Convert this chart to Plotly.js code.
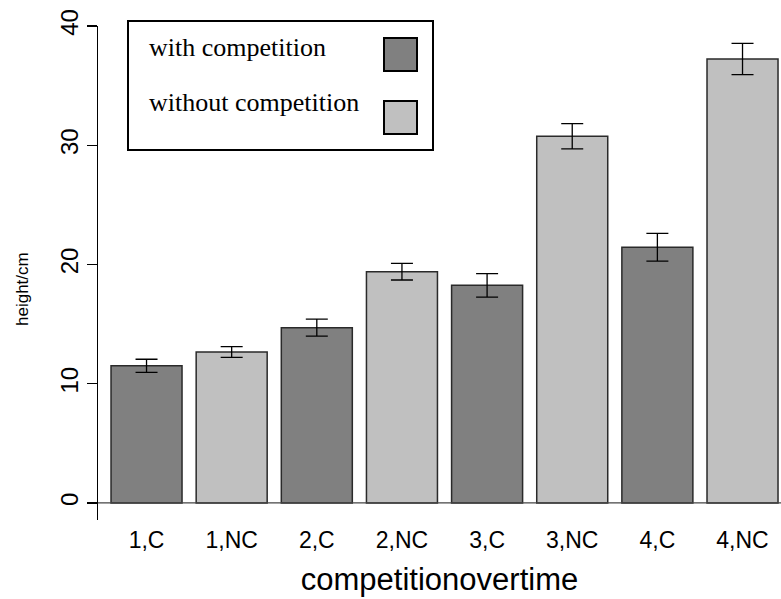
<!DOCTYPE html>
<html>
<head>
<meta charset="utf-8">
<script src="https://cdn.plot.ly/plotly-3.0.1.min.js"></script>
<style>html,body{margin:0;padding:0;background:#fff;}#chart{width:781px;height:599px;}</style>
</head>
<body>
<div id="chart"></div>
<script>
// ---- data ----
const categories = ["1,C", "1,NC", "2,C", "2,NC", "3,C", "3,NC", "4,C", "4,NC"];
const heights = [11.5, 12.66, 14.7, 19.4, 18.25, 30.75, 21.44, 37.23];
const errors = [0.55, 0.45, 0.71, 0.70, 0.99, 1.06, 1.16, 1.31];
const groups = ["with competition", "without competition", "with competition", "without competition",
                "with competition", "without competition", "with competition", "without competition"];
const legendLabels = ["with competition", "without competition"];
const yTicks = [0, 10, 20, 30, 40];
const xTitle = "competitionovertime";
const yTitle = "height/cm";

// ---- styles ----
const groupColors = {"with competition": "#808080", "without competition": "#c0c0c0"};
const W = 781, H = 599;
const plotL = 98, plotR = 781, plotT = 26, plotB = 520;
const px2x = p => (p - plotL) / (plotR - plotL);
const px2y = p => (plotB - p) / (plotB - plotT);
const sans = "Liberation Sans, Arial, sans-serif";

const trace = {
  type: "bar",
  x: categories,
  y: heights,
  marker: {
    color: groups.map(g => groupColors[g]),
    line: {color: "#2a2a2a", width: 1.5}
  },
  error_y: {type: "data", array: errors, visible: true, color: "#000", thickness: 1.3, width: 11},
  hoverinfo: "x+y",
  showlegend: false
};

const shapes = [
  // baseline at zero
  {type: "line", xref: "paper", yref: "y", x0: 0, x1: 1, y0: 0, y1: 0,
   line: {color: "#444", width: 1.3}},
  // legend box
  {type: "rect", xref: "paper", yref: "paper", x0: px2x(128), x1: px2x(433), y0: px2y(21), y1: px2y(150),
   line: {color: "#000", width: 2}, fillcolor: "rgba(255,255,255,0)"}
];
const annotations = [
  {text: yTitle, xref: "paper", yref: "paper", x: px2x(22), y: px2y(289), textangle: -90,
   showarrow: false, xanchor: "center", yanchor: "middle",
   font: {family: sans, size: 17, color: "#000"}}
];
const legendRows = [55, 110];
legendLabels.forEach((lab, i) => {
  const base = legendRows[i];
  annotations.push({text: lab, xref: "paper", yref: "paper", x: px2x(147), y: px2y(base - 8),
    showarrow: false, xanchor: "left", yanchor: "middle",
    font: {family: "Liberation Serif, Times New Roman, serif", size: 26, color: "#000"}});
  const top = i === 0 ? 38 : 101;
  shapes.push({type: "rect", xref: "paper", yref: "paper", x0: px2x(384), x1: px2x(417),
    y0: px2y(top + 33), y1: px2y(top), fillcolor: groupColors[lab], line: {color: "#000", width: 2}});
});

const layout = {
  width: W, height: H,
  margin: {l: plotL, r: W - plotR, t: plotT, b: H - plotB, pad: 0},
  paper_bgcolor: "#fff", plot_bgcolor: "#fff",
  bargap: 0.166,
  xaxis: {
    type: "category",
    range: [-0.57, 7.452],
    showline: false, showgrid: false, zeroline: false,
    ticks: "", ticklabelstandoff: 4,
    tickfont: {family: sans, size: 23, color: "#000"},
    title: {text: xTitle, standoff: 16,
            font: {family: sans, size: 31, color: "#000"}}
  },
  yaxis: {
    range: [-1.43, 40],
    tickvals: yTicks,
    ticktext: yTicks.map(String),
    tickangle: -90,
    showline: true, linecolor: "#000", linewidth: 1.3,
    ticks: "outside", ticklen: 10, tickcolor: "#000", tickwidth: 1.3,
    showgrid: false, zeroline: false,
    ticklabelstandoff: -1,
    tickfont: {family: sans, size: 24, color: "#000"}
  },
  shapes: shapes,
  annotations: annotations,
  showlegend: false
};

Plotly.newPlot("chart", [trace], layout, {displayModeBar: false, staticPlot: true});
</script>
</body>
</html>
